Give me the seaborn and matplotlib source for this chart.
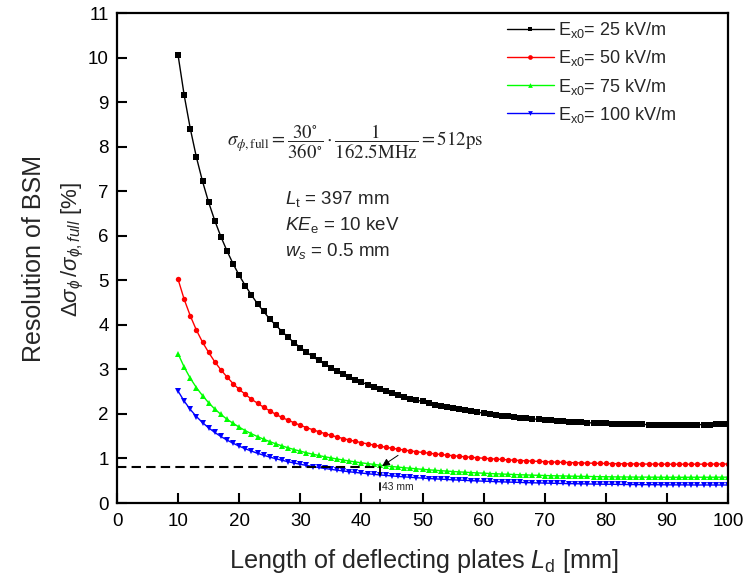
import matplotlib
matplotlib.use("Agg")
import matplotlib.pyplot as plt
from matplotlib.lines import Line2D
import pandas as pd
import seaborn as sns

# Length of the deflecting plates [mm]
plate_length_mm = list(range(10, 101))

# BSM phase resolution [%] for each deflecting field amplitude
res_25kV = [
    10.05, 9.15, 8.40, 7.76, 7.22, 6.75, 6.34, 5.98, 5.66, 5.37,
    5.11, 4.88, 4.67, 4.47, 4.30, 4.13, 3.99, 3.85, 3.72, 3.60,
    3.49, 3.39, 3.29, 3.20, 3.12, 3.04, 2.97, 2.90, 2.83, 2.77,
    2.71, 2.66, 2.60, 2.55, 2.51, 2.46, 2.42, 2.38, 2.34, 2.31,
    2.28, 2.24, 2.21, 2.18, 2.16, 2.13, 2.10, 2.08, 2.06, 2.04,
    2.016, 1.997, 1.979, 1.961, 1.946, 1.930, 1.915, 1.902, 1.888, 1.877,
    1.865, 1.854, 1.844, 1.835, 1.825, 1.818, 1.810, 1.803, 1.796, 1.791,
    1.785, 1.780, 1.776, 1.772, 1.769, 1.766, 1.763, 1.761, 1.760, 1.759,
    1.757, 1.757, 1.757, 1.757, 1.758, 1.759, 1.761, 1.762, 1.765, 1.767, 1.770,
]
res_50kV = [
    5.02, 4.57, 4.20, 3.88, 3.61, 3.38, 3.17, 2.99, 2.83, 2.68,
    2.55, 2.44, 2.33, 2.24, 2.15, 2.07, 1.99, 1.92, 1.86, 1.80,
    1.745, 1.694, 1.646, 1.601, 1.559, 1.519, 1.483, 1.447, 1.415, 1.384,
    1.355, 1.327, 1.301, 1.276, 1.252, 1.230, 1.209, 1.189, 1.170, 1.152,
    1.135, 1.119, 1.104, 1.089, 1.075, 1.062, 1.049, 1.037, 1.026, 1.015,
    1.005, 0.995, 0.986, 0.977, 0.969, 0.961, 0.954, 0.947, 0.940, 0.934,
    0.928, 0.922, 0.917, 0.913, 0.908, 0.904, 0.900, 0.896, 0.893, 0.890,
    0.887, 0.884, 0.882, 0.880, 0.878, 0.876, 0.875, 0.874, 0.873, 0.872,
    0.871, 0.871, 0.871, 0.871, 0.871, 0.872, 0.872, 0.873, 0.874, 0.875, 0.876,
]
res_75kV = [
    3.35, 3.05, 2.80, 2.59, 2.41, 2.25, 2.11, 1.99, 1.88, 1.79,
    1.703, 1.625, 1.555, 1.491, 1.432, 1.378, 1.328, 1.282, 1.239, 1.200,
    1.163, 1.128, 1.097, 1.067, 1.038, 1.013, 0.988, 0.965, 0.942, 0.922,
    0.902, 0.884, 0.867, 0.849, 0.834, 0.819, 0.806, 0.792, 0.780, 0.768,
    0.756, 0.745, 0.735, 0.725, 0.716, 0.707, 0.698, 0.691, 0.683, 0.675,
    0.669, 0.662, 0.656, 0.650, 0.645, 0.639, 0.634, 0.630, 0.625, 0.621,
    0.617, 0.613, 0.610, 0.607, 0.603, 0.601, 0.598, 0.595, 0.593, 0.591,
    0.589, 0.587, 0.585, 0.584, 0.583, 0.581, 0.581, 0.580, 0.579, 0.578,
    0.578, 0.578, 0.577, 0.577, 0.578, 0.578, 0.578, 0.578, 0.579, 0.579, 0.580,
]
res_100kV = [
    2.511, 2.286, 2.099, 1.940, 1.804, 1.687, 1.584, 1.493, 1.413, 1.341,
    1.276, 1.217, 1.165, 1.116, 1.072, 1.031, 0.994, 0.959, 0.927, 0.897,
    0.869, 0.844, 0.819, 0.797, 0.775, 0.756, 0.737, 0.719, 0.702, 0.686,
    0.672, 0.658, 0.644, 0.631, 0.619, 0.608, 0.597, 0.587, 0.577, 0.568,
    0.559, 0.550, 0.542, 0.535, 0.528, 0.520, 0.514, 0.508, 0.501, 0.496,
    0.490, 0.485, 0.480, 0.475, 0.470, 0.466, 0.462, 0.458, 0.454, 0.451,
    0.447, 0.444, 0.441, 0.438, 0.435, 0.433, 0.430, 0.428, 0.425, 0.423,
    0.421, 0.420, 0.418, 0.416, 0.415, 0.413, 0.412, 0.411, 0.410, 0.409,
    0.408, 0.407, 0.407, 0.406, 0.405, 0.404, 0.405, 0.404, 0.404, 0.404, 0.404,
]

field_labels = [
    r"E$_{\mathrm{x0}}$= 25 kV/m",
    r"E$_{\mathrm{x0}}$= 50 kV/m",
    r"E$_{\mathrm{x0}}$= 75 kV/m",
    r"E$_{\mathrm{x0}}$= 100 kV/m",
]
field_series = [res_25kV, res_50kV, res_75kV, res_100kV]
line_colors = ["#000000", "#ff0000", "#00ff00", "#0000ff"]
marker_shapes = ["s", "o", "^", "v"]

# Working point: 0.8 % resolution reached at 43 mm
target_res = 0.8
chosen_length = 43
chosen_res_low = 0.63

sns.set_style("ticks")
plt.rcParams["font.family"] = ["Liberation Sans", "DejaVu Sans"]
plt.rcParams["mathtext.fontset"] = "custom"
plt.rcParams["mathtext.rm"] = "Liberation Sans"
plt.rcParams["mathtext.it"] = "Liberation Sans:italic"
plt.rcParams["mathtext.bf"] = "Liberation Sans:bold"
plt.rcParams["mathtext.sf"] = "Liberation Sans"

W, H = 749, 575
fig = plt.figure(figsize=(W / 100, H / 100), dpi=100)
ax = fig.add_axes([117 / W, 1 - 503 / H, (728 - 117) / W, (503 - 13) / H])

rows = []
for lab, vals in zip(field_labels, field_series):
    for L, r in zip(plate_length_mm, vals):
        rows.append({"L": L, "res": r, "field": lab})
df = pd.DataFrame(rows)

sns.lineplot(
    data=df, x="L", y="res", hue="field", style="field",
    hue_order=field_labels, style_order=field_labels,
    palette=dict(zip(field_labels, line_colors)),
    markers=dict(zip(field_labels, marker_shapes)),
    dashes=False, estimator=None, sort=False, legend=False,
    linewidth=1.0, markersize=3.9, markeredgewidth=0, ax=ax,
)

# dashed guide at the target resolution and the 43 mm marker
ax.plot([0, chosen_length], [target_res, target_res], color="black",
        lw=1.5, dashes=(4.5, 2.5))
ax.plot([chosen_length, chosen_length], [target_res, chosen_res_low],
        color="black", lw=1.3)
ax.plot([chosen_length, chosen_length], [0.44, 0.30], color="black", lw=1.3)
ax.text(chosen_length + 0.4, 0.37, "43 mm", fontsize=7.5, va="center")
ax.annotate("", xy=(chosen_length + 0.4, 0.83), xytext=(46.0, 1.07),
            arrowprops=dict(arrowstyle="-|>", color="black", lw=0.7,
                            mutation_scale=11, shrinkA=0, shrinkB=0))

ax.set_xlim(0, 100)
ax.set_ylim(0, 11)
ax.set_xticks(range(0, 101, 10))
ax.set_yticks(range(0, 12))
ax.set_xticks([chosen_length], minor=True)
ax.tick_params(which="major", direction="in", length=7, width=1.5,
               labelsize=13.5, top=False, right=False, colors="black")
ax.tick_params(axis="x", which="major", pad=7.5)
ax.tick_params(axis="y", which="major", pad=6)
ax.tick_params(which="minor", direction="in", length=3, width=1.3,
               top=False, right=False)
ax.set_xlabel("")
ax.set_ylabel("")
for sp in ax.spines.values():
    sp.set_visible(True)
    sp.set_linewidth(1.6)
    sp.set_color("black")

handles = [
    Line2D([], [], color=c, marker=m, markersize=3.4, markeredgewidth=0, lw=1.0)
    for c, m in zip(line_colors, marker_shapes)
]
leg = ax.legend(handles, field_labels, loc="center left",
                bbox_to_anchor=(507 / W, 1 - 72.5 / H),
                bbox_transform=fig.transFigure,
                borderaxespad=0, borderpad=0, frameon=False,
                fontsize=13, handlelength=2.6, handletextpad=0.2,
                labelspacing=0.45)

# annotations
fig.text(227 / W, 1 - 142 / H,
         r"$\sigma_{\phi,\mathrm{full}}=\dfrac{30^{\circ}}{360^{\circ}}\cdot"
         r"\dfrac{1}{162.5\mathrm{MHz}}=512\mathrm{ps}$",
         math_fontfamily="stix", fontsize=13.6, va="center", ha="left")
fig.text(285 / W, 1 - 204 / H, r"$L_{\mathrm{t}}$ = 397 mm", fontsize=13.5,
         va="baseline")
fig.text(285 / W, 1 - 230 / H, r"$KE_{\mathrm{e}}$ = 10 keV", fontsize=13.5,
         va="baseline")
fig.text(285 / W, 1 - 256 / H, r"$w_{s}$ = 0.5 mm", fontsize=13.5,
         va="baseline")

# axis titles
fig.text(424 / W, 1 - 568 / H, r"Length of deflecting plates $L_{\mathrm{d}}$ [mm]",
         fontsize=18.2, ha="center", va="baseline")
fig.text(34 / W, 1 - 259 / H, "Resolution of BSM", rotation=90, fontsize=18,
         ha="center", va="center")
fig.text(73 / W, 1 - 249 / H,
         r"$\Delta\sigma_{\phi}\,/\sigma_{\phi,full}$ [%]",
         rotation=90, fontsize=16, ha="center", va="center")

fig.savefig("out.png", dpi=100)
